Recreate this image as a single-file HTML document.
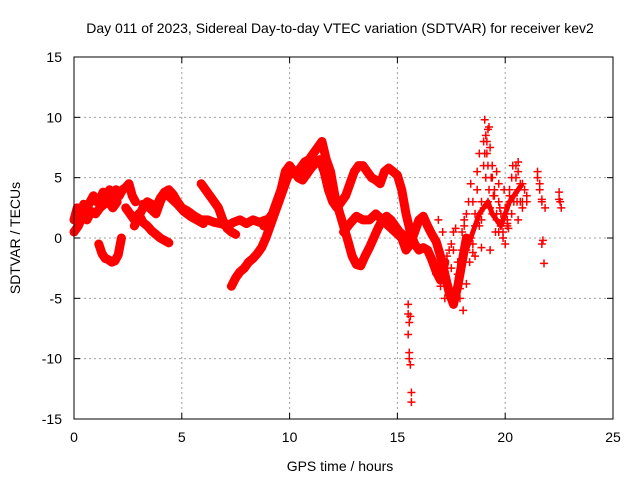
<!DOCTYPE html>
<html><head><meta charset="utf-8"><style>
body{margin:0;background:#fff}
svg{display:block;font-family:"Liberation Sans",sans-serif}
</style></head><body>
<svg id="chart" width="640" height="480" viewBox="0 0 640 480">
<rect width="640" height="480" fill="#fff"/>
<text x="340" y="33" font-size="14" text-anchor="middle">Day 011 of 2023, Sidereal Day-to-day VTEC variation (SDTVAR) for receiver kev2</text>
<g id="grid"></g>
<g id="marks"></g>
<rect x="74" y="57" width="539" height="362" fill="none" stroke="#000" stroke-width="1"/>
<g id="ticks"></g>
<text x="340" y="471" font-size="14" text-anchor="middle">GPS time / hours</text>
<text x="20" y="238" font-size="14" text-anchor="middle" transform="rotate(-90 20 238)">SDTVAR / TECUs</text>
</svg>
<script>
const xTicks=[0,5,10,15,20,25];
const yTicks=[-15,-10,-5,0,5,10,15];
const trackA_t=[0,0.15,0.3,0.45,0.6,0.75,0.9,1.05,1.2,1.35,1.5,1.65,1.8,1.95,2.1,2.25,2.4,2.55,2.7,2.85];
const trackA_v=[1.5,2.5,2,2.8,2.5,3,3.5,3,3.2,3.8,3.2,4,3.5,4,3.5,4,4.2,4.5,3.5,3];
const trackA2_t=[0,0.2,0.4,0.6,0.8,1,1.2,1.4,1.6,1.8,2];
const trackA2_v=[0.5,1,1.8,1.5,2.2,2,2.5,2.8,3,2.5,3];
const trackB_t=[1.15,1.3,1.45,1.6,1.75,1.9,2.05,2.2];
const trackB_v=[-0.5,-1.3,-1.7,-1.8,-2,-1.9,-1.4,0];
const trackC_t=[2.4,2.6,2.8,3,3.2,3.4,3.6,3.8,4,4.2,4.4];
const trackC_v=[2.5,2,1.5,2,1.3,1,0.6,0.3,0,-0.2,-0.4];
const trackD_t=[2.8,3,3.2,3.4,3.6,3.8,4,4.2,4.4,4.6,4.8,5,5.3,5.6,5.9,6.2,6.5,6.8,7.1,7.4,7.7,8,8.3,8.6,8.9];
const trackD_v=[1,1.8,2.5,3,2.8,2.5,3.3,3.8,4,3.6,3,2.5,2.2,1.8,1.5,1.5,1.3,1.2,1,1.3,1.5,1.2,1.5,1.3,1.5];
const trackE_t=[3.2,3.5,3.8,4,4.2,4.5,4.8,5.1,5.4,5.7,6];
const trackE_v=[2.8,2.5,2,3,3.8,3.3,2.8,2.2,1.8,1.5,1.2];
const trackF_t=[5.9,6.1,6.3,6.5,6.7,6.9,7.1,7.3,7.5];
const trackF_v=[4.5,4,3.5,3,2.5,1.5,0.8,0.5,0.3];
const trackG_t=[7.3,7.5,7.7,7.9,8.1,8.3,8.5,8.7,8.9,9.1,9.3,9.5,9.7,9.9,10.1,10.3,10.5,10.7,10.9,11.1,11.3,11.5,11.7,11.9,12.1,12.3,12.5,12.7,12.9,13.1,13.3,13.5,13.7,13.9,14.1,14.3,14.5,14.7,14.9,15.1,15.3,15.5];
const trackG_v=[-4,-3.3,-2.8,-2.5,-2,-1.7,-1.3,-0.8,0,1,2,3,4,5,5.5,5.3,5.8,6.3,6.5,7,7.5,8,6.5,5.5,3.5,2.2,1,-0.2,-1.5,-2.2,-2.3,-1.5,-0.8,0,0.8,1.5,1.8,1.5,1,0.5,0.2,-0.5];
const trackH_t=[8.8,9,9.2,9.4,9.6,9.8,10,10.2,10.4,10.6,10.8,11,11.2,11.4,11.6,11.8,12,12.2,12.4,12.6,12.8,13,13.2,13.4,13.6,13.8,14,14.2,14.4,14.6,14.8,15,15.2,15.4,15.6,15.8,16,16.2,16.4,16.6,16.8,17,17.2];
const trackH_v=[1,1.5,2,3,4,5.5,6,5.5,5,4.8,5.3,5.8,6.2,6.5,5.5,4,3,2.5,3,3.5,4.5,5.5,6,6,5.5,5,4.8,4.5,5.5,5.8,5.5,5.2,4,2,0.5,-0.5,-1,-0.8,-1,-1.8,-2.8,-3.5,-2];
const trackI_t=[12.5,12.8,13.1,13.4,13.7,14,14.3,14.6,14.9,15.2,15.4,15.6,15.8,16,16.2,16.4,16.6,16.8,17,17.2,17.4,17.6,17.8,18,18.2];
const trackI_v=[0.5,1.2,1.8,1.5,1.5,2,1.5,1,0.5,0,-1,-0.5,0.5,1.5,1.8,1,0.3,-0.3,-1.5,-3,-4.5,-5.5,-4,-2,0];
const trackJ_t=[18.2,18.4,18.6,18.8,19,19.2,19.4,19.6,19.8,20,20.2,20.4,20.6,20.8];
const trackJ_v=[-1,0,1,2,2.5,3,2,1.5,1,2,3,3.5,4,4.5];
const noise_t=[15.5,15.5,15.55,15.5,15.55,15.6,15.6,15.55,15.65,15.65,16.9,17.1,17.3,17.5,17.6,17.8,17.9,18,18.1,18.2,18.3,18.4,18.5,18.6,18.7,18.8,18.9,19,19.05,19.1,19.15,19.2,19.25,19.3,19.4,19.5,19.6,19.7,19.8,19.9,20,20.1,20.2,20.3,20.4,20.5,20.6,20.7,20.8,20.9,21,21.5,21.6,21.7,21.7,21.75,21.8,21.85,22.5,22.55,22.6,18.5,18.9,19.3,19.7,20.1,20.6,19.45,17.7,18.2,17.2];
const noise_v=[-5.5,-6.3,-7,-8,-9.5,-10.5,-6.5,-10,-12.8,-13.6,1.5,0.5,-1.5,-2.5,-1,-3,-5,0.5,1.5,2,3,4.5,-0.5,2,5.5,7,3,8,9.8,8.5,7,6,4,2.5,5,4,2,3,1,0.5,2.5,1.5,3.5,5,3.5,6,6.3,4.5,3,4,3,5.5,4.5,3,-0.5,-0.2,-2.1,2.5,3.8,3,2.5,-1.2,-0.8,-1,0.5,1.2,1.5,3.5,0.8,-3.8,-2.8];
const noise2_t=[16.6,16.8,17,17.2,17.4,17.6,17.8,18,18.1,18.3,18.5,18.7,18.8,19,19.1,19.2,19.3,19.4,19.5,19.6,19.7,19.8,19.9,20,20.1,20.2,20.3,20.4,20.5,20.6,20.7,20.8,21,21.5,21.6,21.7,22.5,18.6,18.9,19.15,19.35,19.55,19.75,19.95,20.15,20.35,20.55,17.1,17.5,17.9,18.05,18.35,19.05,19.25];
const noise2_v=[-2,-3,-4,-5,-1,0.5,-2,-1,1,-0.5,3,4,1,6,5,9,7.5,6,3.5,5.5,4.5,2,0,-0.5,1,4,2,3,5,5.5,3,2.5,3.5,5,4,3.2,3.2,-1.5,1.5,8,5,0.5,2.5,4,0.8,6,3,-3,-0.5,-4.2,-6,-2,7,9.2];
const tracks=[[trackA_t,trackA_v],[trackA2_t,trackA2_v],[trackB_t,trackB_v],[trackC_t,trackC_v],[trackD_t,trackD_v],[trackE_t,trackE_v],[trackF_t,trackF_v],[trackG_t,trackG_v],[trackH_t,trackH_v],[trackI_t,trackI_v]];

const X0=74,X1=613,Y0=419,Y1=57;
const xs=t=>X0+(t-0)/(25-0)*(X1-X0);
const ys=v=>Y0-(v+15)/30*(Y0-Y1);
const NS='http://www.w3.org/2000/svg';
const grid=document.getElementById('grid'),ticks=document.getElementById('ticks'),marks=document.getElementById('marks');
function mk(tag,attrs,parent){const e=document.createElementNS(NS,tag);for(const k in attrs)e.setAttribute(k,attrs[k]);parent.appendChild(e);return e;}
xTicks.forEach(t=>{const x=xs(t);
 if(t>0&&t<25){const g=mk('line',{x1:x,x2:x,y1:Y1,y2:Y0,stroke:'#a0a0a0','stroke-dasharray':'2,3'},grid);}
 const l=mk('line',{x1:x,x2:x,y1:Y0,y2:Y0-6,stroke:'#000'},ticks);
 mk('line',{x1:x,x2:x,y1:Y1,y2:Y1+6,stroke:'#000'},ticks);
 const tx=mk('text',{x:x,y:442,'font-size':'14','text-anchor':'middle'},ticks);tx.textContent=t;
 });
yTicks.forEach(v=>{const y=ys(v);
 if(v>-15&&v<15){const g=mk('line',{x1:X0,x2:X1,y1:y,y2:y,stroke:'#a0a0a0','stroke-dasharray':'2,3'},grid);}
 const l=mk('line',{x1:X0,x2:X0+6,y1:y,y2:y,stroke:'#000'},ticks);
 mk('line',{x1:X1,x2:X1-6,y1:y,y2:y,stroke:'#000'},ticks);
 const tx=mk('text',{x:62,y:y+5,'font-size':'14','text-anchor':'end'},ticks);tx.textContent=v;
 });
function plus(t,v){const x=xs(t),y=ys(v);
 const p=mk('path',{d:`M${x-4},${y}h8M${x},${y-4}v8`,stroke:'#f00','stroke-width':'1.5',fill:'none'},marks);
 }
tracks.forEach(([T,V])=>{
 const pl=mk('polyline',{points:T.map((t,i)=>xs(t)+','+ys(V[i])).join(' '),stroke:'#f00','stroke-width':'9',fill:'none','stroke-linejoin':'round','stroke-linecap':'round'},marks);
 
 T.forEach((t,i)=>plus(t,V[i]));});
const jl=mk('polyline',{points:trackJ_t.map((t,i)=>xs(t)+','+ys(trackJ_v[i])).join(' '),stroke:'#f00','stroke-width':'5',fill:'none','stroke-linejoin':'round'},marks);


trackJ_t.forEach((t,i)=>plus(t,trackJ_v[i]));
noise_t.forEach((t,i)=>plus(t,noise_v[i]));
noise2_t.forEach((t,i)=>plus(t,noise2_v[i]));
</script>
</body></html>
